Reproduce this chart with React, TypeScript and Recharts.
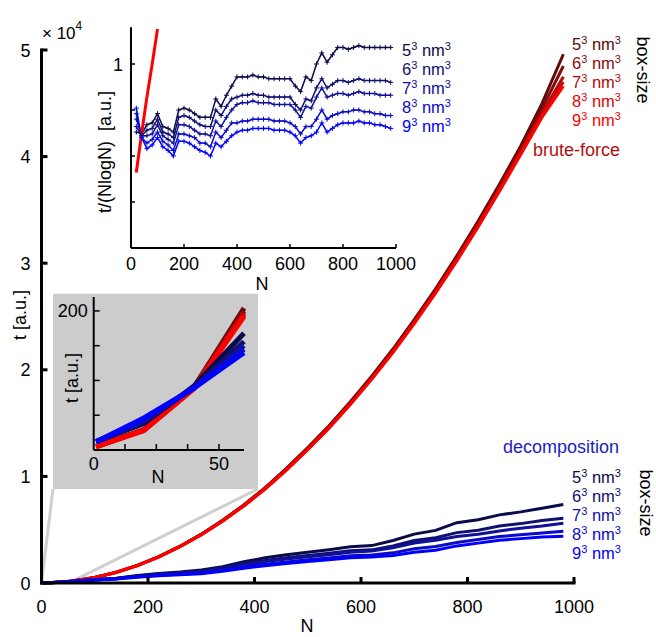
import React from 'react';
import { LineChart, Line, XAxis, YAxis, ReferenceArea, ReferenceLine } from 'recharts';

const FONT = '"Liberation Sans", Arial, Helvetica, sans-serif';

// ---------- main chart: t [a.u.] vs N ----------
const mainN = [1, 20, 40, 60, 100, 140, 180, 220, 260, 300, 340, 380, 420, 460, 500, 540, 580, 620, 660, 700, 740, 780, 820, 860, 900, 940, 980];

const brute5 = [5, 29, 90, 204, 520, 1010, 1660, 2480, 3450, 4580, 5880, 7330, 8950, 10750, 12700, 14750, 17000, 19400, 21950, 24700, 27600, 30700, 33950, 37400, 41000, 45000, 49600];
const brute6 = [5, 29, 90, 200, 515, 1000, 1650, 2460, 3430, 4560, 5850, 7300, 8900, 10700, 12630, 14680, 16920, 19300, 21850, 24580, 27470, 30550, 33780, 37200, 40750, 44500, 48500];
const brute7 = [5, 29, 89, 197, 512, 995, 1640, 2450, 3420, 4540, 5830, 7270, 8870, 10650, 12580, 14620, 16850, 19220, 21750, 24480, 27350, 30420, 33620, 37000, 40500, 44100, 47500];
const brute8 = [5, 28, 89, 194, 510, 990, 1635, 2440, 3410, 4530, 5810, 7250, 8840, 10600, 12530, 14570, 16800, 19150, 21680, 24400, 27260, 30300, 33500, 36850, 40350, 43900, 47000];
const brute9 = [5, 28, 88, 192, 508, 985, 1630, 2430, 3400, 4520, 5800, 7230, 8820, 10580, 12500, 14530, 16750, 19100, 21620, 24330, 27180, 30220, 33400, 36750, 40200, 43700, 46600];

const decomp5 = [12, 38, 92, 168, 336, 450, 701, 891, 1027, 1215, 1526, 1986, 2360, 2652, 2890, 3125, 3393, 3508, 3985, 4586, 4938, 5662, 5942, 6392, 6673, 7014, 7357];
const decomp6 = [12, 40, 90, 156, 322, 429, 664, 843, 969, 1129, 1427, 1828, 2106, 2370, 2579, 2785, 3025, 3109, 3471, 3990, 4253, 4727, 4951, 5346, 5571, 5856, 6075];
const decomp7 = [12, 42, 90, 150, 309, 408, 626, 784, 896, 1044, 1308, 1693, 2005, 2257, 2455, 2649, 2877, 2990, 3299, 3760, 4009, 4363, 4566, 4881, 5143, 5341, 5602];
const decomp8 = [12, 44, 89, 145, 290, 387, 580, 724, 824, 941, 1189, 1535, 1751, 1975, 2175, 2344, 2545, 2631, 2828, 3210, 3422, 3792, 4071, 4358, 4530, 4698, 4860];
const decomp9 = [12, 46, 89, 140, 276, 367, 542, 677, 766, 856, 1090, 1377, 1624, 1834, 2020, 2174, 2361, 2432, 2571, 2889, 3080, 3480, 3741, 4010, 4163, 4312, 4387];

// ---------- top inset: t/(NlogN) vs N ----------
const insetN = [20, 40, 60, 80, 100, 120, 140, 160, 180, 200, 220, 240, 260, 280, 300, 320, 340, 360, 380, 400, 420, 440, 460, 480, 500, 520, 540, 560, 580, 600, 620, 640, 660, 680, 700, 720, 740, 760, 780, 800, 820, 840, 860, 880, 900, 920, 940, 960, 980];
const ratio5 = [0.63, 0.62, 0.67, 0.68, 0.73, 0.66, 0.65, 0.63, 0.75, 0.76, 0.75, 0.73, 0.71, 0.71, 0.71, 0.81, 0.77, 0.83, 0.88, 0.93, 0.93, 0.93, 0.94, 0.93, 0.93, 0.92, 0.92, 0.92, 0.92, 0.92, 0.88, 0.85, 0.93, 0.91, 1.00, 1.06, 1.01, 1.05, 1.09, 1.09, 1.08, 1.09, 1.10, 1.09, 1.09, 1.09, 1.09, 1.09, 1.09];
const ratio6 = [0.66, 0.61, 0.64, 0.65, 0.70, 0.63, 0.62, 0.60, 0.71, 0.72, 0.71, 0.69, 0.67, 0.66, 0.66, 0.75, 0.72, 0.77, 0.81, 0.82, 0.83, 0.83, 0.84, 0.83, 0.83, 0.82, 0.82, 0.82, 0.82, 0.82, 0.78, 0.75, 0.81, 0.80, 0.87, 0.92, 0.87, 0.89, 0.91, 0.91, 0.90, 0.91, 0.92, 0.91, 0.91, 0.91, 0.91, 0.91, 0.90];
const ratio7 = [0.70, 0.61, 0.61, 0.62, 0.67, 0.61, 0.59, 0.57, 0.67, 0.67, 0.66, 0.64, 0.62, 0.62, 0.61, 0.69, 0.66, 0.71, 0.75, 0.78, 0.79, 0.79, 0.80, 0.79, 0.79, 0.79, 0.78, 0.78, 0.78, 0.78, 0.75, 0.71, 0.77, 0.76, 0.82, 0.87, 0.82, 0.83, 0.84, 0.84, 0.83, 0.84, 0.85, 0.84, 0.84, 0.84, 0.83, 0.83, 0.83];
const ratio8 = [0.73, 0.60, 0.57, 0.59, 0.63, 0.58, 0.56, 0.53, 0.62, 0.62, 0.61, 0.60, 0.57, 0.57, 0.55, 0.63, 0.60, 0.64, 0.68, 0.68, 0.69, 0.69, 0.70, 0.70, 0.70, 0.70, 0.69, 0.69, 0.69, 0.68, 0.66, 0.62, 0.66, 0.66, 0.70, 0.75, 0.70, 0.72, 0.73, 0.74, 0.74, 0.75, 0.75, 0.74, 0.74, 0.73, 0.73, 0.72, 0.72];
const ratio9 = [0.76, 0.60, 0.54, 0.56, 0.60, 0.55, 0.53, 0.50, 0.58, 0.58, 0.57, 0.55, 0.53, 0.52, 0.50, 0.57, 0.55, 0.58, 0.61, 0.63, 0.64, 0.64, 0.65, 0.65, 0.65, 0.65, 0.64, 0.64, 0.64, 0.63, 0.61, 0.57, 0.60, 0.61, 0.63, 0.68, 0.63, 0.65, 0.67, 0.68, 0.68, 0.68, 0.69, 0.68, 0.68, 0.67, 0.67, 0.66, 0.65];
const bruteRatio = [0.41, 0.62, 0.82, 1.0, 1.19];

// ---------- labels / ticks ----------
const boxSizes = ['5', '6', '7', '8', '9'];
const redColors = ['#5c0a0a', '#850b0b', '#ae0b0b', '#d80606', '#ff0000'];
const blueColors = ['#0b0b4a', '#101070', '#10109a', '#0a0ac8', '#0000ff'];
const mainXTicks = [0, 200, 400, 600, 800, 1000];
const mainYTicks = [0, 10000, 20000, 30000, 40000, 50000];
const insetXTicks = [0, 200, 400, 600, 800, 1000];
const insetYTicks = [0, 0.25, 0.5, 0.75, 1];
const insetYLabels = ['', '', '', '', '1'];
const zoomXTicks = [0, 12.5, 25, 37.5, 50];
const zoomXLabels = ['0', '', '', '', '50'];
const zoomYTicks = [0, 50, 100, 150, 200];
const zoomYLabels = ['', '', '', '', '200'];
const zoomBox = { x1: 21.6, x2: 406.6, y1: 8826, y2: 27136, nMax: 60, tMax: 220 };

const bruteSeries = [brute5, brute6, brute7, brute8, brute9];
const decompSeries = [decomp5, decomp6, decomp7, decomp8, decomp9];
const ratioSeries = [ratio5, ratio6, ratio7, ratio8, ratio9];

const mainData = mainN.map((N, i) => {
  const row: any = { N };
  bruteSeries.forEach((s, k) => (row['r' + k] = s[i]));
  decompSeries.forEach((s, k) => (row['b' + k] = s[i]));
  return row;
});
const zoomData = mainData.filter((d) => d.N <= zoomBox.nMax);
const insetData = insetN.map((N, i) => {
  const row: any = { N, red: i < bruteRatio.length ? bruteRatio[i] : null };
  ratioSeries.forEach((s, k) => (row['v' + k] = s[i]));
  return row;
});

// ---------- tick renderers (inward ticks) ----------
const makeXTick = (len: number, w: number, off: number, labels?: string[], ticks?: number[], skipZero = true) => (p: any) => {
  const { x, y, payload } = p;
  const v = payload.value;
  let lab = String(v);
  if (labels && ticks) lab = labels[ticks.indexOf(v)] ?? '';
  return (
    <g>
      {!(skipZero && v === 0) && <line x1={x} x2={x} y1={y} y2={y - len} stroke="#000" strokeWidth={w} />}
      <text x={x} y={y + off} textAnchor="middle" fontSize={18} fontFamily={FONT} fill="#000">{lab}</text>
    </g>
  );
};
const makeYTick = (len: number, w: number, gap: number, fmt: (v: number) => string) => (p: any) => {
  const { x, y, payload } = p;
  const v = payload.value;
  return (
    <g>
      {v !== 0 && <line x1={x} x2={x + len} y1={y} y2={y} stroke="#000" strokeWidth={w} />}
      <text x={x - gap} y={y + 6.5} textAnchor="end" fontSize={18} fontFamily={FONT} fill="#000">{fmt(v)}</text>
    </g>
  );
};

const plusDot = (color: string) => (p: any) => {
  const { cx, cy, index } = p;
  if (cx == null || cy == null || p.value == null) return <g key={'d' + index} />;
  return (
    <g key={'d' + index}>
      <line x1={cx - 2.5} x2={cx + 2.5} y1={cy} y2={cy} stroke={color} strokeWidth={1} />
      <line x1={cx} x2={cx} y1={cy - 2.5} y2={cy + 2.5} stroke={color} strokeWidth={1} />
    </g>
  );
};

const SizeLabel = ({ x, y, n, color }: any) => (
  <text x={x} y={y} fill={color} fontSize={16.5} fontFamily={FONT}>
    {n}
    <tspan dy={-6} fontSize={11}>3</tspan>
    <tspan dy={6}>{'\u00a0nm'}</tspan>
    <tspan dy={-6} fontSize={11}>3</tspan>
  </text>
);

const abs: React.CSSProperties = { position: 'absolute', left: 0, top: 0 };

export default function App() {
  return (
    <div style={{ position: 'absolute', left: 0, top: 0, width: 656, height: 637, background: '#fff', overflow: 'hidden' }}>
      {/* main chart */}
      <div style={abs}>
        <LineChart width={656} height={637} data={mainData} margin={{ top: 50, right: 82, bottom: 0, left: 0 }}>
          <XAxis dataKey="N" type="number" domain={[0, 1000]} ticks={mainXTicks} interval={0} height={54}
            tickSize={0} tickMargin={0} tickLine={false}
            axisLine={{ stroke: '#000', strokeWidth: 3, strokeLinecap: 'square' } as any}
            tick={makeXTick(6, 3, 30)} />
          <YAxis type="number" domain={[0, 50000]} ticks={mainYTicks} interval={0} width={41.5}
            tickSize={0} tickMargin={0} tickLine={false}
            axisLine={{ stroke: '#000', strokeWidth: 3, strokeLinecap: 'square' } as any}
            tick={makeYTick(6, 3, 11, (v) => String(v / 10000))} />
          <ReferenceArea x1={zoomBox.x1} x2={zoomBox.x2} y1={zoomBox.y1} y2={zoomBox.y2} fill="#cccccc" fillOpacity={1} stroke="none" />
          <ReferenceLine segment={[{ x: 0, y: 0 }, { x: zoomBox.x1, y: zoomBox.y1 }]} stroke="#cfcfcf" strokeWidth={3} />
          <ReferenceLine segment={[{ x: zoomBox.nMax, y: zoomBox.tMax }, { x: zoomBox.x2, y: zoomBox.y1 }]} stroke="#cfcfcf" strokeWidth={3} />
          {redColors.map((c, k) => (
            <Line key={'r' + k} dataKey={'r' + k} stroke={c} strokeWidth={3} dot={false} activeDot={false} isAnimationActive={false} type="linear" />
          ))}
          {blueColors.map((c, k) => (
            <Line key={'b' + k} dataKey={'b' + k} stroke={c} strokeWidth={3} dot={false} activeDot={false} isAnimationActive={false} type="linear" />
          ))}
        </LineChart>
      </div>

      {/* zoom inset (gray box) */}
      <div style={abs}>
        <LineChart width={656} height={637} data={zoomData} margin={{ top: 297, right: 412, bottom: 0, left: 0 }}>
          <XAxis dataKey="N" type="number" domain={[0, zoomBox.nMax]} ticks={zoomXTicks} interval={0} height={187}
            tickSize={0} tickMargin={0} tickLine={false}
            axisLine={{ stroke: '#000', strokeWidth: 2 }}
            tick={makeXTick(6, 1.5, 20, zoomXLabels, zoomXTicks)} />
          <YAxis type="number" domain={[0, zoomBox.tMax]} ticks={zoomYTicks} interval={0} width={93.7}
            tickSize={0} tickMargin={0} tickLine={false}
            axisLine={{ stroke: '#000', strokeWidth: 2 }}
            tick={makeYTick(6, 1.5, 6, (v) => zoomYLabels[zoomYTicks.indexOf(v)] ?? '')} />
          {redColors.map((c, k) => (
            <Line key={'zr' + k} dataKey={'r' + k} stroke={c} strokeWidth={5} dot={false} activeDot={false} isAnimationActive={false} type="linear" />
          ))}
          {blueColors.map((c, k) => (
            <Line key={'zb' + k} dataKey={'b' + k} stroke={c} strokeWidth={5} dot={false} activeDot={false} isAnimationActive={false} type="linear" />
          ))}
        </LineChart>
      </div>

      {/* top inset */}
      <div style={abs}>
        <LineChart width={656} height={637} data={insetData} margin={{ top: 27.2, right: 260, bottom: 0, left: 0 }}>
          <XAxis dataKey="N" type="number" domain={[0, 1000]} ticks={insetXTicks} interval={0} height={389}
            tickSize={0} tickMargin={0} tickLine={false}
            axisLine={{ stroke: '#000', strokeWidth: 2 }}
            tick={makeXTick(4, 1.5, 22)} />
          <YAxis type="number" domain={[0, 1.2]} ticks={insetYTicks} interval={0} width={131}
            tickSize={0} tickMargin={0} tickLine={false}
            axisLine={{ stroke: '#000', strokeWidth: 2 }}
            tick={makeYTick(4, 1.5, 8, (v) => insetYLabels[insetYTicks.indexOf(v)] ?? '')} />
          {blueColors.map((c, k) => (
            <Line key={'v' + k} dataKey={'v' + k} stroke={c} strokeWidth={1.5} dot={plusDot(c)} activeDot={false} isAnimationActive={false} type="linear" />
          ))}
          <Line dataKey="red" stroke="#ff0000" strokeWidth={3} dot={false} activeDot={false} isAnimationActive={false} type="linear" connectNulls={false} />
        </LineChart>
      </div>

      {/* text overlay */}
      <svg width={656} height={637} style={{ ...abs, pointerEvents: 'none' }}>
        <text x={42} y={39} fontSize={17} fontFamily={FONT} fill="#000">
          {'\u00d7 10'}<tspan dy={-9} fontSize={12}>4</tspan>
        </text>
        <text x={307} y={632} textAnchor="middle" fontSize={18} fontFamily={FONT}>N</text>
        <text x={26} y={315} textAnchor="middle" fontSize={18} fontFamily={FONT} transform="rotate(-90 26 315)">t [a.u.]</text>

        <text x={262} y={290} textAnchor="middle" fontSize={18} fontFamily={FONT}>N</text>
        <text x={111} y={152} textAnchor="middle" fontSize={18} fontFamily={FONT} transform="rotate(-90 111 152)">{'t/(NlogN)\u00a0\u00a0[a.u.]'}</text>

        <text x={158} y={483} textAnchor="middle" fontSize={18} fontFamily={FONT}>N</text>
        <text x={78} y={378} textAnchor="middle" fontSize={18} fontFamily={FONT} transform="rotate(-90 78 378)">t [a.u.]</text>

        {boxSizes.map((n, k) => (
          <SizeLabel key={'rl' + k} x={572} y={[50, 69, 88, 107, 126][k]} n={n} color={redColors[k]} />
        ))}
        {boxSizes.map((n, k) => (
          <SizeLabel key={'bl' + k} x={572} y={[483, 502, 521, 540, 559][k]} n={n} color={blueColors[k]} />
        ))}
        {boxSizes.map((n, k) => (
          <SizeLabel key={'il' + k} x={402} y={[56, 75, 94, 113, 132][k]} n={n} color={blueColors[k]} />
        ))}
        <text x={620} y={156} textAnchor="end" fontSize={18} fontFamily={FONT} fill="#b01010">brute-force</text>
        <text x={619} y={453} textAnchor="end" fontSize={18} fontFamily={FONT} fill="#1c1cc4">decomposition</text>
        <text x={637} y={70} textAnchor="middle" fontSize={18} fontFamily={FONT} transform="rotate(90 637 70)">box-size</text>
        <text x={640} y={503} textAnchor="middle" fontSize={18} fontFamily={FONT} transform="rotate(90 640 503)">box-size</text>
      </svg>
    </div>
  );
}
